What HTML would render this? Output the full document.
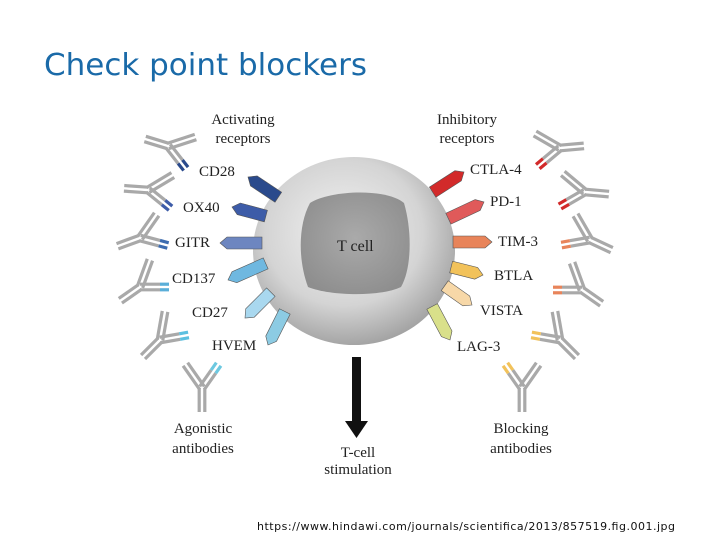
<!DOCTYPE html>
<html><head><meta charset="utf-8"><style>
html,body{margin:0;padding:0;background:#fff;width:720px;height:540px;overflow:hidden}
svg text{font-family:"Liberation Serif",serif;font-size:15px;fill:#222}
</style></head><body>
<svg id="s" width="720" height="540" viewBox="0 0 720 540" xmlns="http://www.w3.org/2000/svg">
<defs>
<radialGradient id="cg" cx="0.45" cy="0.4" r="0.65">
<stop offset="0" stop-color="#f2f2f2"/><stop offset="0.6" stop-color="#d4d4d4"/><stop offset="1" stop-color="#9a9a9a"/>
</radialGradient>
<radialGradient id="ng" cx="0.5" cy="0.45" r="0.6">
<stop offset="0" stop-color="#aaaaaa"/><stop offset="1" stop-color="#8e8e8e"/>
</radialGradient>
</defs>
<text x="44" y="75" style="font-family:'DejaVu Sans','Liberation Sans',sans-serif;font-size:30px;fill:#1a6aa8" textLength="323" lengthAdjust="spacingAndGlyphs">Check point blockers</text>
<ellipse cx="354" cy="251" rx="101" ry="94" fill="url(#cg)"/>
<path d="M310,203 C330,190 387,188 404,203 C412,230 412,268 401,287 C380,297 330,296 308,287 C298,260 298,225 310,203Z" fill="url(#ng)"/>
<text x="337" y="251" style="font-size:16px">T cell</text>
<rect x="352" y="357" width="9" height="66" fill="#111"/>
<polygon points="345,421 368,421 356.5,438" fill="#111"/>
<g id="g"></g>
<text x="243" y="124" text-anchor="middle">Activating</text>
<text x="243" y="143" text-anchor="middle">receptors</text>
<text x="467" y="124" text-anchor="middle">Inhibitory</text>
<text x="467" y="143" text-anchor="middle">receptors</text>
<text x="199" y="176">CD28</text>
<text x="183" y="212">OX40</text>
<text x="175" y="247">GITR</text>
<text x="172" y="283">CD137</text>
<text x="192" y="317">CD27</text>
<text x="212" y="350">HVEM</text>
<text x="470" y="174">CTLA-4</text>
<text x="490" y="206">PD-1</text>
<text x="498" y="246">TIM-3</text>
<text x="494" y="280">BTLA</text>
<text x="480" y="315">VISTA</text>
<text x="457" y="351">LAG-3</text>
<text x="203" y="433" text-anchor="middle">Agonistic</text>
<text x="203" y="453" text-anchor="middle">antibodies</text>
<text x="521" y="433" text-anchor="middle">Blocking</text>
<text x="521" y="453" text-anchor="middle">antibodies</text>
<text x="358" y="457" text-anchor="middle">T-cell</text>
<text x="358" y="474" text-anchor="middle">stimulation</text>
<text x="257" y="530" style="font-family:'DejaVu Sans','Liberation Sans',sans-serif;font-size:11px;fill:#111" textLength="418">https://www.hindawi.com/journals/scientifica/2013/857519.fig.001.jpg</text>
</svg>
<script>
var g=document.getElementById('g'),NS='http://www.w3.org/2000/svg';
function el(t,a){var e=document.createElementNS(NS,t);for(var k in a)e.setAttribute(k,a[k]);g.appendChild(e);return e;}
function rad(d){return d*Math.PI/180;}
function dbl(x,y,ang,len,col,from){var c=Math.cos(rad(ang)),s=Math.sin(rad(ang)),px=-s*2.8,py=c*2.8;
[1,-1].forEach(function(k){el('line',{x1:x+c*from+px*k,y1:y+s*from+py*k,x2:x+c*len+px*k,y2:y+s*len+py*k,stroke:col,'stroke-width':3.2});});}
function ab(x,y,dirA,side,col){var rot=dirA-side*35;var armB=rot-side*35;
dbl(x,y,rot+180,24,'#a9a9a9',0);dbl(x,y,armB,29,'#a9a9a9',0);dbl(x,y,dirA,20,'#a9a9a9',0);dbl(x,y,dirA,29,col,20);}
function rec(bx,by,tx,ty,col){var dx=tx-bx,dy=ty-by,L=Math.hypot(dx,dy);bx-=dx/L*4;by-=dy/L*4;var ux=dx/L,uy=dy/L,px=-uy*6,py=ux*6;
var nx=tx-ux*7,ny=ty-uy*7;
el('polygon',{points:[bx+px,by+py,nx+px,ny+py,tx,ty,nx-px,ny-py,bx-px,by-py].join(','),fill:col,stroke:'#555','stroke-width':0.6});}
var L=[[275,195,248,177,'#2a4a8c'],[262,215,232,207,'#3d5ca8'],[258,243,220,243,'#6d86c0'],[262,265,228,280,'#6fb8e0'],[268,295,245,318,'#a9d8ef'],[283,315,268,345,'#8ccbe3'],
[436,190,464,172,'#d22a2a'],[452,217,484,202,'#e05a5a'],[457,242,492,242,'#e8845a'],[455,268,483,275,'#f2c25a'],[448,288,472,305,'#f7d8a8'],[434,310,450,340,'#d9e08a']];
L.forEach(function(r){rec.apply(null,r);});
var A=[[168,146,52,1,'#2a4a8c'],[148,190,39,1,'#3d5ca8'],[140,238,15,1,'#3d6cb0'],[140,287,0,1,'#5aaed8'],[160,340,-10,1,'#5cc0e0'],[202,388,-55,1,'#6cc8e0'],
[560,148,140,-1,'#d22a2a'],[585,192,150,-1,'#d22a2a'],[590,240,170,-1,'#e8845a'],[582,290,180,-1,'#e8845a'],[560,340,190,-1,'#f2c25a'],[522,388,235,-1,'#f2c25a']];
A.forEach(function(a){ab.apply(null,a);});
</script>
</body></html>
